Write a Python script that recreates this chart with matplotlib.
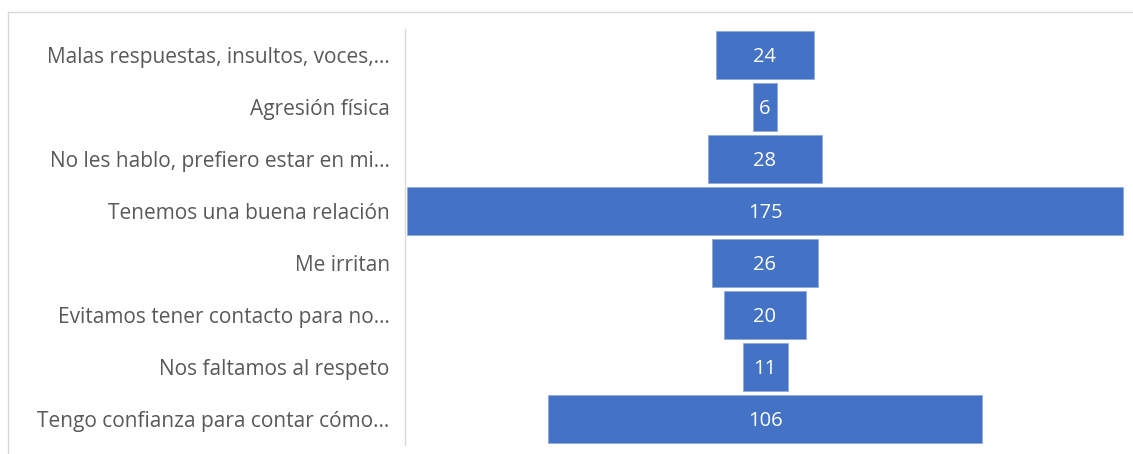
import matplotlib.pyplot as plt
from matplotlib.lines import Line2D

categories = [
    "Malas respuestas, insultos, voces,...",
    "Agresión física",
    "No les hablo, prefiero estar en mi...",
    "Tenemos una buena relación",
    "Me irritan",
    "Evitamos tener contacto para no...",
    "Nos faltamos al respeto",
    "Tengo confianza para contar cómo...",
]
values = [24, 6, 28, 175, 26, 20, 11, 106]

BAR_COLOR = "#4472C4"
LABEL_COLOR = "#595959"
GRID_COLOR = "#d9d9d9"

plt.rcParams["font.family"] = ["Open Sans", "DejaVu Sans"]

fig = plt.figure(figsize=(11.33, 4.54), dpi=100)
fig.patch.set_facecolor("white")
ax = fig.add_axes([405 / 1133, 9 / 454, 720 / 1133, 416 / 454])

# funnel: each bar centred on zero
ypos = list(range(len(categories)))
lefts = [-v / 2 for v in values]
ax.barh(ypos, values, left=lefts, height=0.92, color=BAR_COLOR,
        edgecolor="#8faadc", linewidth=0.6)
for y, v in zip(ypos, values):
    ax.text(0, y + 0.03, str(v), ha="center", va="center", color="white",
            fontsize=14.5)

ax.set_ylim(len(categories) - 0.5, -0.5)
ax.set_xlim(-88, 88)
ax.set_yticks(ypos)
ax.set_yticklabels(categories, fontsize=15, color=LABEL_COLOR)
ax.tick_params(axis="y", length=0, pad=11)
ax.set_xticks([])
for s in ("top", "right", "bottom"):
    ax.spines[s].set_visible(False)
ax.spines["left"].set_color(GRID_COLOR)
ax.spines["left"].set_linewidth(1)

# chart-area border
fig.add_artist(Line2D([8 / 1133, 1], [1 - 12 / 454, 1 - 12 / 454],
                      transform=fig.transFigure, color=GRID_COLOR, lw=1))
fig.add_artist(Line2D([8 / 1133, 8 / 1133], [0, 1 - 12 / 454],
                      transform=fig.transFigure, color=GRID_COLOR, lw=1))

fig.savefig("out.png", dpi=100)
